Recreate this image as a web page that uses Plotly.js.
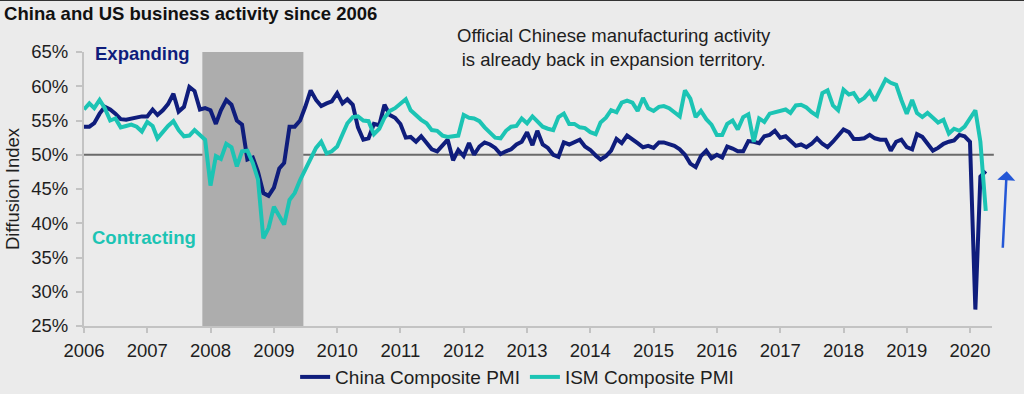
<!DOCTYPE html>
<html>
<head>
<meta charset="utf-8">
<script src="https://cdn.plot.ly/plotly-3.0.1.min.js"></script>
<style>
  html, body { margin: 0; padding: 0; background: #ebebeb; }
  #chart { width: 1024px; height: 394px; }
</style>
</head>
<body>
<div id="chart"></div>
<script>
// ---- Data (monthly, Jan 2006 – Apr 2020) ----
const startYear = 2006;
const startMonth = 1;

const chinaComposite = [
  54.1, 54.1, 54.6, 56.0, 57.0, 56.6, 56.0, 55.2, 55.1, 55.3, 55.5, 55.6,
  55.6, 56.6, 55.8, 56.5, 57.4, 58.9, 56.3, 57.0, 59.9, 59.3, 56.6, 56.8,
  56.5, 54.5, 56.5, 58.0, 57.3, 55.0, 54.4, 49.3, 49.6, 47.5, 44.4, 44.0,
  45.2, 48.0, 48.8, 54.1, 54.1, 55.0, 57.0, 59.4, 58.0, 57.1, 57.5, 57.8,
  59.0, 57.5, 58.1, 57.3, 54.0, 52.2, 52.4, 54.5, 54.3, 57.3, 55.8, 55.4,
  54.5, 52.5, 52.6, 51.9, 52.7, 51.7, 50.8, 50.5, 51.4, 52.2, 49.2, 50.7,
  49.8, 51.7, 50.0, 51.2, 51.8, 51.5, 51.0, 50.1, 50.5, 50.8, 51.5, 51.9,
  53.3, 51.4, 53.5, 51.5, 51.0, 50.0, 49.7, 51.8, 51.5, 51.9, 52.2, 51.2,
  50.7, 49.9, 49.3, 49.8, 50.6, 52.3, 51.7, 52.8, 52.3, 51.7, 51.1, 51.3,
  51.0, 51.8, 51.8, 51.6, 51.3, 50.8, 50.0, 48.7, 48.2, 49.8, 50.6, 49.5,
  50.0, 49.6, 51.2, 50.9, 50.5, 50.5, 52.0, 51.9, 51.7, 52.7, 52.9, 53.5,
  52.5, 52.7, 52.1, 51.3, 51.5, 51.1, 51.6, 52.4, 51.6, 51.1, 51.9, 52.9,
  53.7, 53.3, 52.3, 52.3, 52.4, 52.9, 52.4, 52.2, 52.2, 50.6, 51.9, 52.2,
  51.1, 50.8, 53.0, 52.6, 51.6, 50.6, 51.0, 51.6, 51.9, 52.1, 52.9, 52.7,
  51.9, 27.4, 46.8, 47.6
];

const ismComposite = [
  56.6, 57.5, 56.8, 58.0, 56.8, 55.0, 55.3, 54.0, 54.2, 54.4, 54.1, 53.4,
  54.8, 54.2, 52.4, 53.4, 54.2, 54.9, 53.6, 52.7, 52.8, 53.6, 52.8, 52.2,
  45.5, 49.8, 49.4, 51.6, 51.1, 48.3, 50.5, 50.6, 48.8, 46.4, 37.8, 39.3,
  42.4, 41.0, 39.8, 43.4, 44.4, 46.3, 47.8, 49.5, 51.0, 51.9, 50.2, 50.5,
  51.2, 53.0, 54.6, 55.5, 55.6, 55.0, 54.9, 53.0, 53.8, 55.4, 56.4, 56.8,
  57.4, 58.1, 56.5, 55.7, 55.1, 54.6, 53.6, 53.5, 52.8, 52.6, 52.7, 52.8,
  55.8, 55.4, 55.3, 54.9, 54.0, 53.3, 52.5, 52.4, 53.5, 54.1, 54.2, 55.3,
  54.6, 55.6, 54.8, 54.1, 53.8, 53.6, 55.5, 56.0, 54.5, 54.5, 54.0, 53.9,
  53.3, 53.0, 54.7, 55.4, 56.5, 56.2, 57.6, 57.9, 57.6, 56.4, 58.3, 56.8,
  56.4, 57.0, 57.1, 56.8, 56.2, 55.6, 59.4, 58.2, 55.5, 56.4, 55.2, 54.4,
  52.9, 52.9, 54.5, 55.0, 53.7, 55.5, 55.9, 51.9, 55.3, 54.8, 56.0, 56.2,
  56.3, 56.6, 56.1, 57.2, 57.3, 56.9, 56.2, 55.7, 59.0, 59.4, 57.2, 56.5,
  59.5, 58.8, 59.0, 57.8, 58.3, 59.2, 57.9, 59.6, 61.0, 60.5, 60.2, 58.0,
  56.0, 58.0, 56.1, 55.5, 56.1, 55.4, 54.7, 55.1, 53.1, 53.8, 53.5, 54.1,
  55.3, 56.5, 51.9, 41.8
];

const yTicks = [25, 30, 35, 40, 45, 50, 55, 60, 65];
const seriesNames = ['China Composite PMI', 'ISM Composite PMI'];
const recession = ['2007-11-15', '2009-06-20'];
const neutralLevel = 50;

// monthly date labels
function monthDates(n) {
  const out = [];
  for (let i = 0; i < n; i++) {
    const t = (startMonth - 1) + i;
    const y = startYear + Math.floor(t / 12);
    const m = (t % 12) + 1;
    out.push(y + '-' + String(m).padStart(2, '0') + '-01');
  }
  return out;
}
const dates = monthDates(chinaComposite.length);

const NAVY = '#0f1d7c';
const TEAL = '#1cc4b4';
const FONT = 'Arial, "Liberation Sans", sans-serif';

const traces = [
  {
    x: dates, y: chinaComposite, name: seriesNames[0], type: 'scatter', mode: 'lines',
    line: { color: NAVY, width: 4 }
  },
  {
    x: dates, y: ismComposite, name: seriesNames[1], type: 'scatter', mode: 'lines',
    line: { color: TEAL, width: 4 }
  }
];

const layout = {
  width: 1024, height: 394,
  paper_bgcolor: '#ebebeb', plot_bgcolor: '#ebebeb',
  margin: { l: 84, r: 32, t: 52, b: 68, autoexpand: false },
  font: { family: FONT, size: 18, color: '#1e1e1e' },
  title: {
    text: '<b>China and US business activity since 2006</b>',
    x: 0.004, xref: 'container', xanchor: 'left',
    y: 0.965, yref: 'container', yanchor: 'middle',
    font: { family: FONT, size: 18.5, color: '#111' }
  },
  xaxis: {
    type: 'date',
    range: ['2006-01-01', '2020-05-07'],
    dtick: 'M12', tick0: '2006-01-01', tickformat: '%Y',
    showgrid: false, zeroline: false,
    showline: true, linecolor: '#c3c3c3', linewidth: 2,
    ticks: 'outside', ticklen: 5, tickcolor: '#c3c3c3', tickwidth: 2,
    ticklabelstandoff: 2,
    tickfont: { family: FONT, size: 18.5, color: '#1e1e1e' }
  },
  yaxis: {
    range: [25, 65],
    tickvals: yTicks, ticktext: yTicks.map(v => v + '%'),
    showgrid: false, zeroline: false,
    showline: true, linecolor: '#c3c3c3', linewidth: 2,
    ticks: 'outside', ticklen: 6, tickcolor: '#c3c3c3', tickwidth: 2,
    ticklabelstandoff: 4,
    tickfont: { family: FONT, size: 18.5, color: '#1e1e1e' },
    title: { text: 'Diffusion Index', standoff: 7, font: { family: FONT, size: 18.5, color: '#1e1e1e' } }
  },
  legend: {
    orientation: 'h', xref: 'container', yref: 'container',
    x: 0.505, xanchor: 'center', y: 0.043, yanchor: 'middle',
    bgcolor: 'rgba(0,0,0,0)', font: { family: FONT, size: 19, color: '#1e1e1e' },
    itemwidth: 30
  },
  shapes: [
    {
      type: 'rect', xref: 'x', yref: 'y', layer: 'below',
      x0: recession[0], x1: recession[1], y0: 25, y1: 65,
      fillcolor: '#adadad', line: { width: 0 }
    },
    {
      type: 'line', xref: 'paper', yref: 'y', layer: 'below',
      x0: 0, x1: 1.002, y0: neutralLevel, y1: neutralLevel,
      line: { color: '#6a6a6a', width: 2 }
    },
    {
      type: 'line', xref: 'paper', yref: 'paper',
      x0: -0.1, x1: 1.04, y0: 1.1895, y1: 1.1895,
      line: { color: '#333', width: 2 }
    }
  ],
  annotations: [
    {
      text: 'Official Chinese manufacturing activity<br>is already back in expansion territory.',
      xref: 'paper', yref: 'paper', x: 0.5837, y: 1.0146,
      xanchor: 'center', yanchor: 'middle', showarrow: false,
      font: { family: FONT, size: 18.5, color: '#1e1e1e' }
    },
    {
      text: '<b>Expanding</b>', xref: 'paper', yref: 'y', x: 0.010, y: 64.85,
      xanchor: 'left', yanchor: 'middle', showarrow: false,
      font: { family: FONT, size: 18.5, color: NAVY }
    },
    {
      text: '<b>Contracting</b>', xref: 'paper', yref: 'y', x: 0.007, y: 37.85,
      xanchor: 'left', yanchor: 'middle', showarrow: false,
      font: { family: FONT, size: 18.5, color: TEAL }
    },
    {
      text: '', xref: 'paper', yref: 'y', x: 1.0162, y: 47.6,
      showarrow: true, ax: -4, ay: 78, axref: 'pixel', ayref: 'pixel',
      arrowhead: 1, arrowsize: 1.2, arrowwidth: 2.5, arrowcolor: '#2457d6'
    }
  ]
};

Plotly.newPlot('chart', traces, layout, { staticPlot: true, displayModeBar: false });
</script>
</body>
</html>
